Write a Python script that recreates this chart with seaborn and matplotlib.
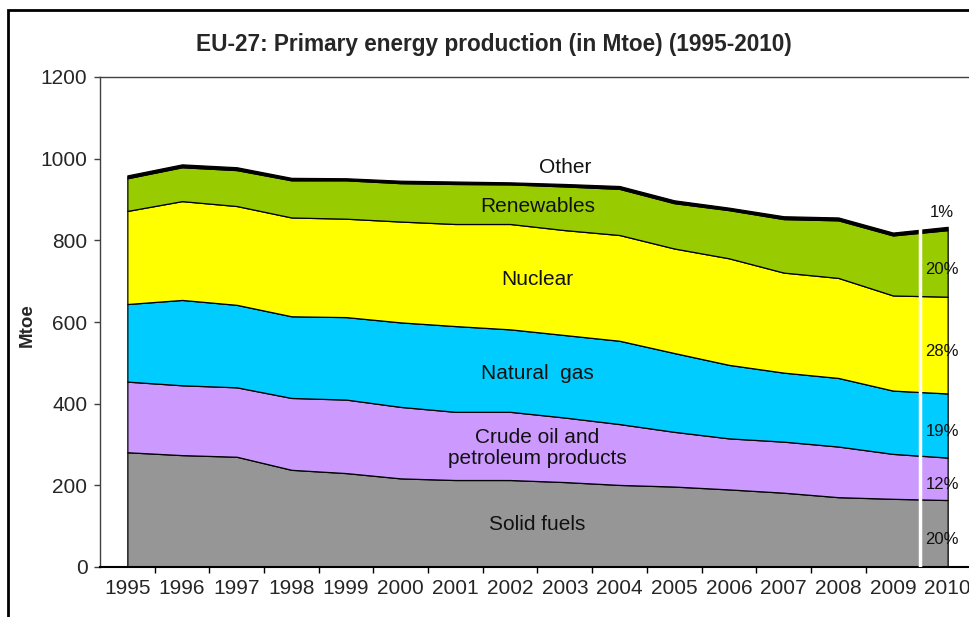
"""EU-27 primary energy production, stacked area chart (1995-2010)."""

import matplotlib.pyplot as plt
import numpy as np
import seaborn as sns

# Values in Mtoe
years = list(range(1995, 2011))
solid_fuels = [281, 274, 270, 238, 230, 217, 213, 213, 208, 201, 197, 190, 182, 171, 167, 164]
crude_oil = [173, 171, 170, 176, 180, 175, 167, 167, 158, 149, 134, 125, 125, 124, 110, 104]
natural_gas = [190, 209, 202, 200, 202, 207, 210, 202, 202, 204, 193, 180, 169, 168, 155, 157]
nuclear = [228, 242, 242, 242, 241, 247, 250, 258, 257, 259, 256, 261, 245, 245, 233, 237]
renewables = [80, 83, 88, 91, 94, 94, 98, 97, 107, 113, 111, 118, 131, 141, 147, 163]
other = [7, 7, 7, 6, 5, 6, 6, 5, 6, 7, 7, 6, 7, 7, 7, 8]

band_labels = ["Solid fuels", "Crude oil and\npetroleum products", "Natural  gas",
               "Nuclear", "Renewables", "Other"]
share_2010 = ["20%", "12%", "19%", "28%", "20%", "1%"]
colors = ["#969696", "#CC99FF", "#00CCFF", "#FFFF00", "#99CC00", "#000000"]

sns.set_style("ticks")
plt.rcParams["font.family"] = ["Liberation Sans", "DejaVu Sans"]

fig = plt.figure(figsize=(9.7, 6.17), dpi=100)
ax = fig.add_axes([100 / 970, 50 / 617, 875 / 970, 490 / 617])

x = np.arange(len(years))
layers = np.array([solid_fuels, crude_oil, natural_gas, nuclear, renewables, other], dtype=float)
ax.stackplot(x, layers, colors=colors, edgecolor="black", linewidth=0.9)

cum = np.cumsum(layers, axis=0)
bottoms = np.vstack([np.zeros(len(x)), cum[:-1]])

# band names in the middle of the chart
xm = 7.5
for i, label in enumerate(band_labels):
    top = np.interp(xm, x, cum[i])
    bot = np.interp(xm, x, bottoms[i])
    if label == "Other":
        ax.text(8.0, top + 38, label, ha="center", va="center", fontsize=15, color="#111111")
    else:
        ax.text(xm, (top + bot) / 2, label, ha="center", va="center",
                fontsize=15, linespacing=1.15, color="#111111")

# 2010 shares
for i, share in enumerate(share_2010):
    if i == len(share_2010) - 1:
        y = cum[i][-1] + 36
    else:
        y = (cum[i][-1] + bottoms[i][-1]) / 2 - 15
    ax.text(x[-1] - 0.1, y, share, ha="center", va="center", fontsize=12, color="#111111")

# white separator before the last year
ax.vlines(x[-1] - 0.5, 0, np.interp(x[-1] - 0.5, x, cum[-1]) + 3,
          color="white", linewidth=2.5, zorder=3)

ax.set_xlim(-0.5, len(x) - 0.5)
ax.set_ylim(0, 1200)
ax.set_yticks(range(0, 1201, 200))
ax.set_xticks(x)
ax.set_xticklabels(years)
ax.set_xticks(x[:-2] + 0.5, minor=True)
ax.tick_params(axis="x", which="major", length=0, pad=9, labelsize=15)
ax.tick_params(axis="x", which="minor", length=4, width=1, color="black")
ax.tick_params(axis="y", length=4, width=1, color="#404040", pad=5, labelsize=15)

for side in ["left", "top"]:
    ax.spines[side].set_color("#404040")
    ax.spines[side].set_linewidth(1)
ax.spines["bottom"].set_color("black")
ax.spines["bottom"].set_linewidth(1.5)
ax.spines["right"].set_visible(False)

ax.set_ylabel("Mtoe", fontsize=13.5, fontweight="bold")
ax.yaxis.set_label_coords(-0.073, 0.494)

fig.text(494 / 970, 1 - 44 / 617, "EU-27: Primary energy production (in Mtoe) (1995-2010)",
         ha="center", va="center", fontsize=16.3, fontweight="bold")

# outer frame of the original chart (cropped on the right and bottom)
frame = plt.Rectangle((8 / 970, -0.2), 1.2, 1.2 - 10 / 617, fill=False,
                      edgecolor="black", linewidth=2, transform=fig.transFigure)
fig.patches.append(frame)

fig.savefig("out.png", dpi=100)
